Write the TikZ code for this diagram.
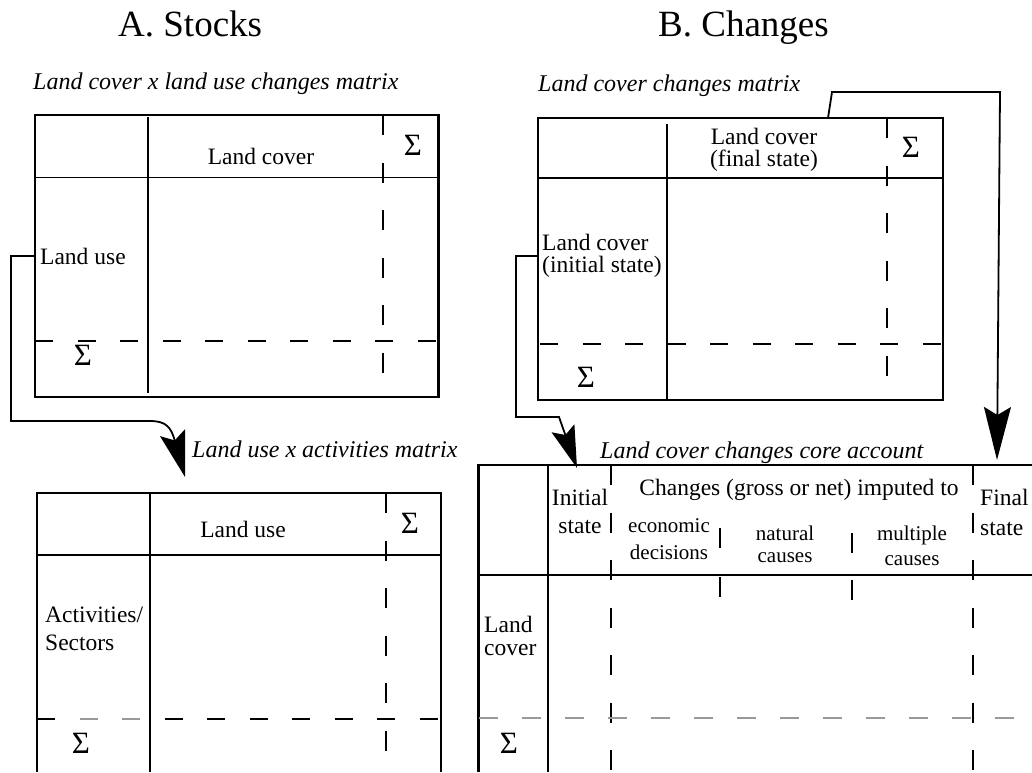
\documentclass[tikz,border=0pt]{standalone}
\usepackage{fontspec}
\setmainfont{Liberation Serif}
\usetikzlibrary{arrows.meta}

\begin{document}
\begin{tikzpicture}[x=1pt,y=-1pt,
  lbl/.style={inner sep=0pt, font=\fontsize{23.5}{26}\selectfont},
  captn/.style={inner sep=0pt, font=\fontsize{24}{28}\selectfont\itshape, anchor=base west},
  ttl/.style={inner sep=0pt, font=\fontsize{37}{40}\selectfont, anchor=base west},
  sig/.style={inner sep=0pt, font=\fontsize{31}{33}\selectfont, anchor=base},
  bw/.style={line width=#1},
  vdash/.style={line width=2.2pt, dash pattern=on 20pt off 27.5pt},
  hdash/.style={line width=1.2pt, dash pattern=on 18pt off 24.5pt},
  link/.style={line width=1.8pt},
]
\fill[white] (0,0) rectangle (1032,772);
\useasboundingbox (0,0) rectangle (1032,772);

% Panel titles
\node[ttl] (ta) at (118,36) {A. Stocks};
\node[ttl] (tb) at (658,36) {B. Changes};

% Matrix captions
\node[captn] (capA1) at (33,89) {Land cover x land use changes matrix};
\node[captn] (capB1) at (538,91) {Land cover changes matrix};
\node[captn] (capA2) at (192,457) {Land use x activities matrix};
\node[captn] (capB2) at (600,458) {Land cover changes core account};

% ---- Table A1: land cover x land use
\draw[bw=1.5pt] (35,115) -- (438,115);
\draw[bw=1.5pt] (35,397) -- (438,397);
\draw[bw=2pt] (35,114.25) -- (35,397.75);
\draw[bw=3pt] (438,114.25) -- (438,397.75);
\draw[bw=1pt] (35,177) -- (440,177);
\draw[bw=2pt] (148,117) -- (148,393);
\draw[vdash] (383,115) -- (383,374);
\draw[hdash] (35,341) -- (438,341);

\node[lbl, anchor=base] (a1col) at (261,164) {Land cover};
\node[sig] (a1s1) at (413,155) {Σ};
\node[lbl, anchor=base west, inner xsep=5pt] (luse) at (35,264) {Land use};
\node[sig] (a1s2) at (83,365) {Σ};

% ---- Table A2: land use x activities
\draw[bw=1.5pt] (37,493) -- (441,493);
\draw[bw=2.5pt] (37,492.25) -- (37,772);
\draw[bw=2.5pt] (441,492.25) -- (441,772);
\draw[bw=1.5pt] (37,555) -- (441,555);
\draw[bw=2pt] (150,493) -- (150,772);
\draw[vdash] (386,493) -- (386,772);
\draw[bw=1.2pt] (37,719) -- (55,719);
\draw[hdash, black!40] (79.5,719) -- (148,719);
\draw[hdash] (164.5,719) -- (441,719);

\node[lbl, anchor=base] (a2col) at (243,537) {Land use};
\node[sig] (a2s1) at (410,533) {Σ};
\node[lbl, anchor=west, align=left, font=\fontsize{23.5}{28}\selectfont] (acts) at (45,629) {Activities/\\Sectors};
\node[sig] (a2s2) at (81,753) {Σ};

% ---- Table B1: land cover changes
\draw[bw=1.5pt] (538,118) -- (943,118);
\draw[bw=1.5pt] (538,400) -- (943,400);
\draw[bw=2.5pt] (538,117.25) -- (538,400.75);
\draw[bw=2pt] (943,117.25) -- (943,400.75);
\draw[bw=2pt] (537,178) -- (944,178);
\draw[bw=2.5pt] (667,124) -- (667,401);
\draw[vdash] (887,118) -- (887,377);
\draw[hdash] (540,344) -- (943,344);

\node[lbl, align=center, font=\fontsize{23.5}{22}\selectfont, anchor=north east, inner xsep=10pt, inner ysep=10pt] (fstate) at (828,118) {Land cover\\(final state)};
\node[sig] (b1s1) at (911,157) {Σ};
\node[lbl, align=left, font=\fontsize{23.5}{22}\selectfont, anchor=west, inner xsep=4pt] (linit) at (538,256) {Land cover\\(initial state)};
\node[sig] (b1s2) at (586,387) {Σ};

% ---- Table B2: core account
\draw[bw=1.5pt] (478,465) -- (1032,465);
\draw[bw=3pt] (478,464.25) -- (478,772);
\draw[bw=2.5pt] (548,465) -- (548,772);
\draw[bw=1.5pt] (478,575) -- (1032,575);
\draw[vdash] (611,465) -- (611,772);
\draw[vdash] (973,465) -- (973,772);
\draw[bw=2.2pt, dash pattern=on 20pt off 29pt] (720,528) -- (720,597);
\draw[bw=2.2pt, dash pattern=on 20pt off 27pt] (852,533) -- (852,600);
\draw[bw=1.2pt, black!40, dash pattern=on 19pt off 24pt] (479,718) -- (1032,718);

\node[lbl, align=center, font=\fontsize{23.5}{28}\selectfont] (initst) at (580,511) {Initial\\state};
\node[lbl, anchor=base] (chg) at (799,495) {Changes (gross or net) imputed to};
\node[lbl, align=center, font=\fontsize{21}{27}\selectfont] (econ) at (669,539.5) {economic\\decisions};
\node[lbl, align=center, font=\fontsize{21}{22}\selectfont] (natc) at (785,544) {natural\\causes};
\node[lbl, align=center, font=\fontsize{21}{25}\selectfont] (multc) at (912,545.5) {multiple\\causes};
\node[lbl, align=left, anchor=west, font=\fontsize{23.5}{30}\selectfont] (finst) at (980,512) {Final\\state};
\node[lbl, align=left, anchor=west, font=\fontsize{23.5}{23}\selectfont] (lcov) at (484,635.5) {Land\\cover};
\node[sig] (b2s) at (509,753) {Σ};

% ---- Connectors between the matrices
\coordinate (tipA) at (185,477);
\coordinate (tipI) at (577,468);
\coordinate (tipF) at (997,460);

\draw[link, -{Stealth[length=46pt,width=26pt,inset=8pt]}]
  (luse.west) -| (11,421) -- (150,421) .. controls (166,421) and (171,427) .. (tipA);
\draw[link, -{Stealth[length=42pt,width=24pt,inset=7pt]}]
  (linit.west) -| (516,417) -- (559,417) -- (tipI);
\draw[link, -{Stealth[length=53pt,width=27pt,inset=8pt]}]
  (fstate.north east) -- (832,92) -- (1000,92) -- (tipF);
\end{tikzpicture}
\end{document}
